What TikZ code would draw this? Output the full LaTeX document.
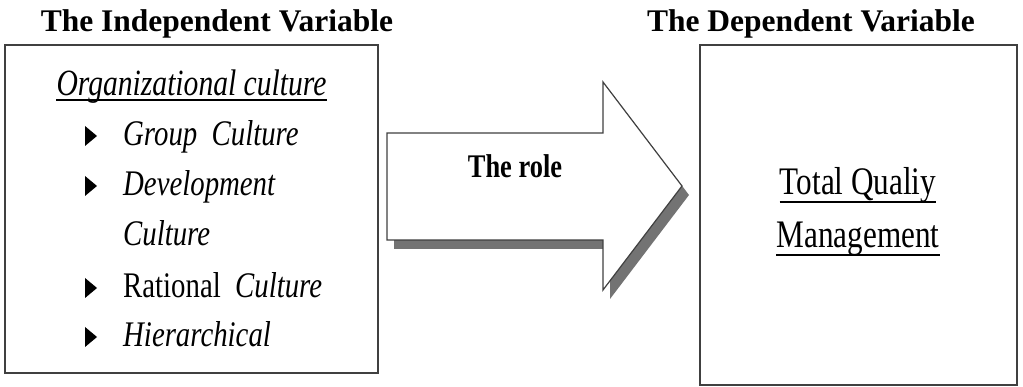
\documentclass[tikz,border=0pt]{standalone}
\usepackage{fontspec}
\setmainfont{Liberation Serif}
\newfontfamily\condfont[FakeStretch=0.8]{Liberation Serif}
\begin{document}
\begin{tikzpicture}[x=1pt,y=-1pt,
  title/.style={font=\fontsize{31.5}{36}\selectfont\bfseries, anchor=base, inner sep=0},
  framebox/.style={draw=black!75, line width=1.4pt},
  itemtext/.style={font=\condfont\fontsize{36}{40}\selectfont\itshape, anchor=base west, inner sep=0},
  uline/.style={line width=2.4pt},
  bul/.pic={\fill (0,-10) -- (12,0) -- (0,10) -- cycle;}
]
\useasboundingbox (0,0) rectangle (1023,387);
% titles
\node[title] (t1) at (217,32) {The Independent Variable};
\node[title] (t2) at (811,32) {The Dependent Variable};
% boxes
\draw[framebox] (5,45) rectangle (378,373);
\draw[framebox] (700,45) rectangle (1017,385);
% left box content
\node[font=\condfont\fontsize{37}{40}\selectfont\itshape, anchor=base, inner sep=0] (org) at (191.5,96) {Organizational culture};
\draw[uline] ([yshift=-4pt]org.base west) -- ([yshift=-4pt]org.base east);
\pic at (85,136) {bul};
\node[itemtext] (i1) at (123,146) {Group\ \ Culture};
\pic at (85,186) {bul};
\node[itemtext] (i2) at (123,196) {Development};
\node[itemtext] (i3) at (123,246) {Culture};
\pic at (85,288) {bul};
\node[itemtext] (i4) at (123,298) {\upshape Rational\ \ \itshape Culture};
\pic at (85,337) {bul};
\node[itemtext] (i5) at (123,347) {Hierarchical};
% arrow
\fill[black!55] (394,142) -- (610,142) -- (610,91) -- (689,195) -- (610,299) -- (610,249) -- (394,249) -- cycle;
\draw[draw=black!75, line width=1.2pt, fill=white] (387,133) -- (603,133) -- (603,82) -- (682,186) -- (603,290) -- (603,240) -- (387,240) -- cycle;
\node[font=\condfont\fontsize{33}{36}\selectfont\bfseries, anchor=base, inner sep=0] (role) at (515,178) {The role};
% right box content
\node[font=\condfont\fontsize{39}{42}\selectfont, anchor=base, inner sep=0] (tq) at (858,195) {Total Qualiy};
\draw[uline] ([yshift=-7pt]tq.base west) -- ([yshift=-7pt]tq.base east);
\node[font=\condfont\fontsize{39}{42}\selectfont, anchor=base, inner sep=0] (mg) at (858,248) {Management};
\draw[uline] ([yshift=-7pt]mg.base west) -- ([yshift=-7pt]mg.base east);
\end{tikzpicture}
\end{document}
